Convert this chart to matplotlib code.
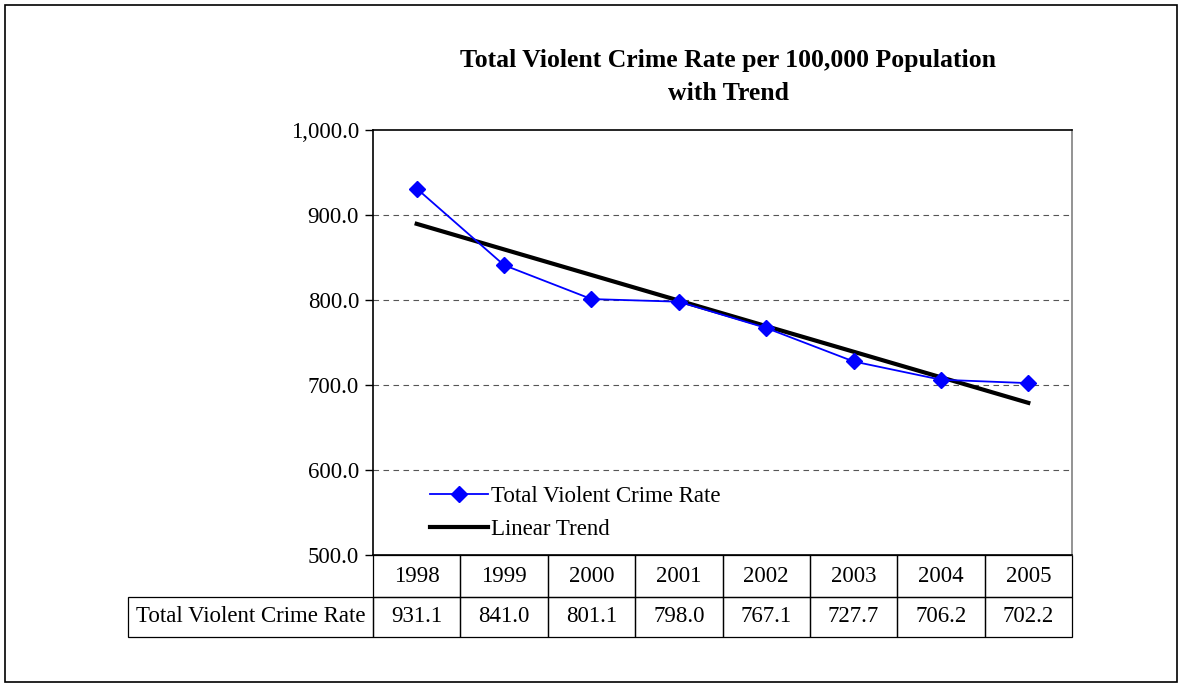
import matplotlib
matplotlib.use("Agg")
import matplotlib.pyplot as plt
import numpy as np
from matplotlib.patches import Rectangle
from matplotlib.ticker import FuncFormatter, MultipleLocator

years = ["1998", "1999", "2000", "2001", "2002", "2003", "2004", "2005"]
rates = [931.1, 841.0, 801.1, 798.0, 767.1, 727.7, 706.2, 702.2]
series_label = "Total Violent Crime Rate"
trend_label = "Linear Trend"
title_lines = ["Total Violent Crime Rate per 100,000 Population", "with Trend"]

plt.rcParams['font.family'] = ['Liberation Serif', 'DejaVu Serif']

W, H = 1182, 687
fig = plt.figure(figsize=(W / 100, H / 100), dpi=100)

# outer border
fig.patches.append(Rectangle((5 / W, 5 / H), 1 - 10 / W, 1 - 10 / H, transform=fig.transFigure,
                             fill=False, edgecolor='black', linewidth=1.2))

ax_l, ax_r, ax_t, ax_b = 373, 1072, 130, 555
ax = fig.add_axes([ax_l / W, 1 - ax_b / H, (ax_r - ax_l) / W, (ax_b - ax_t) / H])

x = np.arange(len(years))
y = np.array(rates)
coef = np.polyfit(x, y, 1)
trend = np.polyval(coef, x)

ax.plot(x, y, color='#0000FF', linewidth=1.3, marker='D', markersize=8.5,
        label=series_label, zorder=4)
ax.plot(x, trend, color='black', linewidth=3, label=trend_label, zorder=3)

ax.set_xlim(-0.5, len(years) - 0.5)
ax.set_ylim(500, 1000)
ax.yaxis.set_major_locator(MultipleLocator(100))
ax.yaxis.set_major_formatter(FuncFormatter(lambda v, p: f"{v:,.1f}"))
ax.set_xticks([])
ax.tick_params(axis='y', direction='out', length=6, width=1, labelsize=16.5, pad=4)
for v in [600, 700, 800, 900]:
    ax.axhline(v, color='#555555', linestyle=(0, (5, 4)), linewidth=0.8, zorder=1)
for s in ['left', 'bottom', 'top']:
    ax.spines[s].set_color('black')
    ax.spines[s].set_linewidth(1.2)
ax.spines['right'].set_color('#808080')
ax.spines['right'].set_linewidth(1.2)

fig.text(728 / W, 1 - 60 / H, title_lines[0], ha='center', va='center',
         fontsize=18.5, fontweight='bold')
fig.text(728 / W, 1 - 94 / H, title_lines[1], ha='center', va='center',
         fontsize=18.5, fontweight='bold')

leg = ax.legend(loc='lower left', bbox_to_anchor=(0.069, 0.014), frameon=False,
                fontsize=16.5, handlelength=2.5, handletextpad=0.15, labelspacing=0.5,
                borderaxespad=0)

# data table drawn under the axes (axes coordinates)
axh = ax_b - ax_t
axw = ax_r - ax_l
n = len(years)
colw = 1.0 / n
h1 = (597 - 555) / axh
h2 = (636.5 - 597) / axh
labw = (ax_l - 128) / axw
T = ax.transAxes
fs = 16.5
for i, yr in enumerate(years):
    ax.add_patch(Rectangle((i * colw, -h1), colw, h1, transform=T, fill=False,
                           edgecolor='black', linewidth=0.9, clip_on=False))
    ax.add_patch(Rectangle((i * colw, -h1 - h2), colw, h2, transform=T, fill=False,
                           edgecolor='black', linewidth=0.9, clip_on=False))
    ax.text((i + 0.5) * colw, -h1 / 2, yr, transform=T, ha='center', va='center',
            fontsize=fs, clip_on=False)
    ax.text((i + 0.5) * colw, -h1 - h2 / 2, f"{rates[i]:.1f}", transform=T,
            ha='center', va='center', fontsize=fs, clip_on=False)
ax.add_patch(Rectangle((-labw, -h1 - h2), labw, h2, transform=T, fill=False,
                       edgecolor='black', linewidth=0.9, clip_on=False))
ax.text(-labw + 8 / axw, -h1 - h2 / 2, series_label, transform=T, ha='left', va='center',
        fontsize=fs, clip_on=False)

fig.savefig("out.png", dpi=100)
